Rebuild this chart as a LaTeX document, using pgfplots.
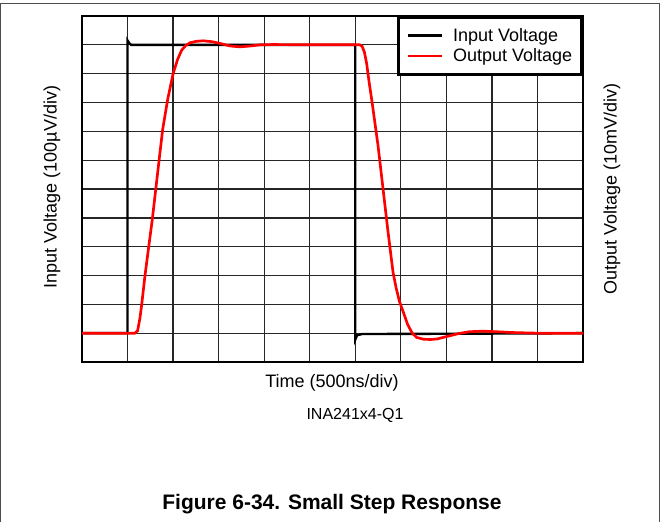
\documentclass[border=0pt]{standalone}
\usepackage{fontspec}
\setmainfont{Liberation Sans}
\usepackage{pgfplots}
\pgfplotsset{compat=1.18}
\begin{document}
\begin{tikzpicture}[x=0.75pt,y=0.75pt]
\path[use as bounding box] (0,0) rectangle (666,522);
\draw[black!70, line width=0.75pt] (0.4,0) -- (0.4,518) -- (659,518) -- (659,0);
\begin{axis}[
  at={(61.5pt,120pt)}, anchor=south west,
  scale only axis, width=375.75pt, height=259.5pt,
  xmin=0, xmax=11, ymin=0, ymax=12,
  xtick={0,...,11}, ytick={0,...,12},
  xticklabels={}, yticklabels={},
  major tick length=0pt,
  grid=major,
  major grid style={black!85, line width=1pt},
  axis line style={line width=2.2pt},
  legend cell align=left,
  legend image code/.code={\draw[#1] (0pt,0pt) -- (26pt,0pt);},
  legend style={at={(1,1)}, anchor=north east, draw=black, line width=2.2pt,
    font=\fontsize{13.5}{16}\selectfont, inner xsep=6pt, inner ysep=7pt,
    row sep=2pt, column sep=6pt, nodes={inner sep=1pt}},
]
\addplot[black, line width=1.8pt] coordinates {
(0,1) (1.0,1) (1.0,11.15) (1.04,11.05) (1.08,11.0) (6.0,11.0) (6.0,0.78) (6.04,0.93) (6.15,0.97) (8,0.98) (11,1.0)
};
\addlegendentry{Input Voltage}
\addplot[red, line width=2pt] coordinates {
(0,1) (1.16,1.0) (1.22,1.08) (1.27,1.5) (1.31,1.98) (1.38,2.96) (1.46,3.94) (1.54,4.9) (1.62,6.0) (1.70,7.1) (1.77,8.05) (1.88,9.1) (2.0,10.0) (2.1,10.5) (2.19,10.82) (2.28,10.98) (2.37,11.07) (2.5,11.12) (2.66,11.14) (2.85,11.11) (3.03,11.05) (3.25,10.96) (3.47,10.93) (3.7,10.96) (3.91,11.0) (4.2,11.01) (5,11.0) (6.1,11.0) (6.15,10.95) (6.2,10.75) (6.25,10.35) (6.30,9.75) (6.37,9.0) (6.5,7.5) (6.61,6.0) (6.72,4.5) (6.83,3.1) (6.9,2.55) (6.97,2.1) (7.05,1.75) (7.15,1.3) (7.25,1.0) (7.35,0.85) (7.5,0.79) (7.65,0.78) (7.8,0.8) (8.0,0.88) (8.25,0.98) (8.5,1.05) (8.8,1.07) (9.1,1.05) (9.5,1.02) (10,1.0) (11,1.0)
};
\addlegendentry{Output Voltage}
\end{axis}
\node[font=\fontsize{13.5}{16}\selectfont] at (332,139) {Time (500ns/div)};
\node[font=\fontsize{13.5}{16}\selectfont, rotate=90] at (52,335) {Input Voltage (100µV/div)};
\node[font=\fontsize{13.5}{16}\selectfont, rotate=90] at (612,333) {Output Voltage (10mV/div)};
\node[font=\fontsize{12}{14}\selectfont] at (355,107) {INA241x4-Q1};
\node[font=\fontsize{15.75}{18}\selectfont\bfseries] at (332,18) {Figure 6-34. Small Step Response};
\end{tikzpicture}
\end{document}
